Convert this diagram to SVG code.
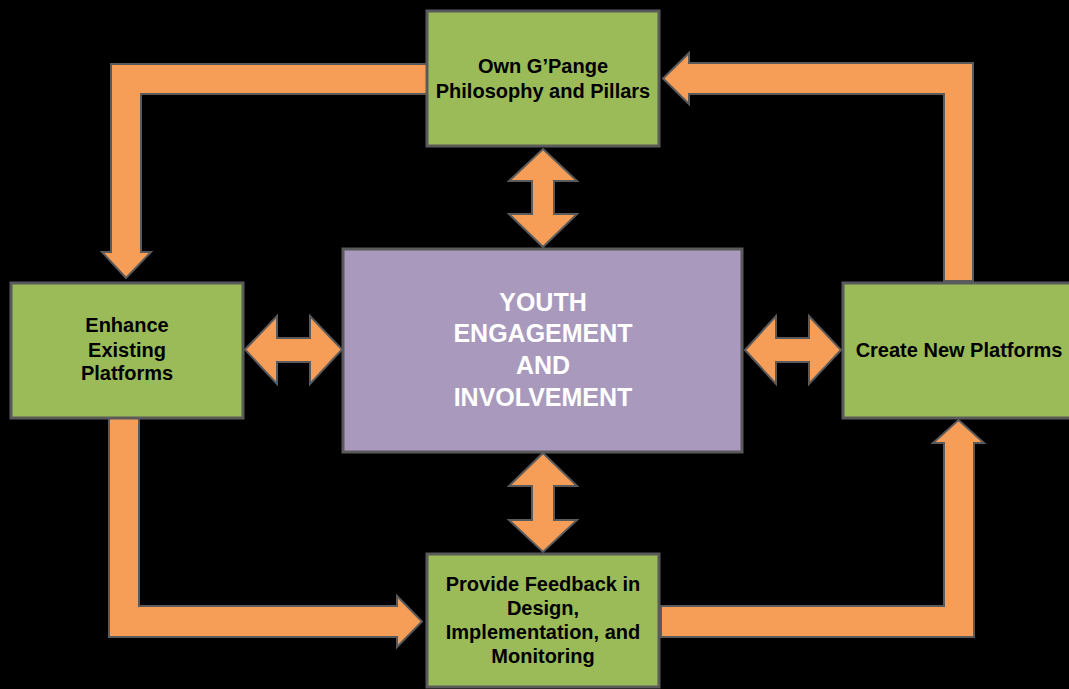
<svg xmlns="http://www.w3.org/2000/svg" width="1069" height="689" viewBox="0 0 1069 689">
<style>
.bg{fill:#000}
.box{fill:#9bbb59;stroke:#5a5a5a;stroke-width:3}
.center{fill:#a99abd;stroke:#5a5a5a;stroke-width:3}
.arr{fill:#f69d58;stroke:#5a5a5a;stroke-width:2;stroke-linejoin:miter}
.t{font-family:"Liberation Sans",Arial,sans-serif;font-weight:bold;font-size:20px;fill:#000;text-anchor:middle}
.tc{font-family:"Liberation Sans",Arial,sans-serif;font-weight:bold;font-size:25px;fill:#fff;text-anchor:middle}
</style>
<rect class="bg" x="0" y="0" width="1069" height="689"/>
<g id="connectors">
<path class="arr" d="M427,64 L111,64 L111,252 L102,252 L126,278 L151,252 L141,252 L141,94 L427,94 Z"/>
<path class="arr" d="M944,281 L944,94 L689,94 L689,104 L663,78.5 L689,53 L689,63 L973,63 L973,281 Z"/>
<path class="arr" d="M109,418 L109,637 L397,637 L397,647 L422,621.5 L397,596 L397,606 L139,606 L139,418 Z"/>
<path class="arr" d="M661,606 L944,606 L944,443 L933,443 L958.5,420 L984,443 L974,443 L974,637 L661,637 Z"/>
<path class="arr" d="M543,149 L577,181 L554,181 L554,214 L577,214 L543,247 L509,214 L532,214 L532,181 L509,181 Z"/>
<path class="arr" d="M543,453 L577,486 L554,486 L554,520 L577,520 L543,552 L509,520 L532,520 L532,486 L509,486 Z"/>
<path class="arr" d="M245,349.5 L277,316 L277,338 L310,338 L310,316 L342,349.5 L310,384 L310,362 L277,362 L277,384 Z"/>
<path class="arr" d="M745,350 L776,316 L776,338 L809,338 L809,316 L841,350 L809,384 L809,362 L776,362 L776,384 Z"/>
</g>
<g id="node-philosophy">
<rect class="box" x="427" y="11" width="232" height="135"/>
<text class="t" x="543" y="73">Own G’Pange</text>
<text class="t" x="543" y="98">Philosophy and Pillars</text>
</g>
<g id="node-youth">
<rect class="center" x="343" y="249" width="399" height="203"/>
<text class="tc" x="543" y="311">YOUTH</text>
<text class="tc" x="543" y="342">ENGAGEMENT</text>
<text class="tc" x="543" y="374">AND</text>
<text class="tc" x="543" y="406">INVOLVEMENT</text>
</g>
<g id="node-enhance">
<rect class="box" x="11" y="283" width="232" height="135"/>
<text class="t" x="127" y="332">Enhance</text>
<text class="t" x="127" y="357">Existing</text>
<text class="t" x="127" y="380">Platforms</text>
</g>
<g id="node-create">
<rect class="box" x="843" y="283" width="232" height="135"/>
<text class="t" x="959" y="357">Create New Platforms</text>
</g>
<g id="node-feedback">
<rect class="box" x="427" y="554" width="232" height="133"/>
<text class="t" x="543" y="591">Provide Feedback in</text>
<text class="t" x="543" y="615">Design,</text>
<text class="t" x="543" y="639">Implementation, and</text>
<text class="t" x="543" y="663">Monitoring</text>
</g>
</svg>
